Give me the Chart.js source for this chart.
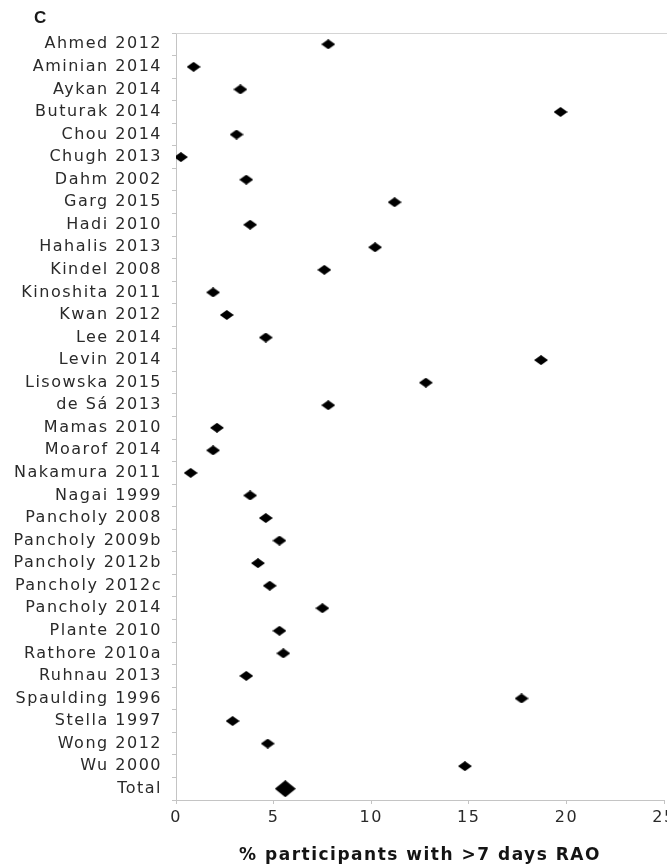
<!DOCTYPE html>
<html>
<head>
<meta charset="utf-8">
<script src="https://cdn.jsdelivr.net/npm/chart.js@4"></script>
<style>
  html, body { margin: 0; padding: 0; background: #fff; overflow: hidden; width: 667px; height: 868px; }
  #wrap { position: relative; width: 700px; height: 868px; }
  #panel { position: absolute; left: 34px; top: 8px; font: bold 17px "Liberation Sans", Arial, sans-serif; color: #1a1a1a; }
  canvas { position: absolute; left: 0; top: 0; }
</style>
</head>
<body>
<div id="wrap">
  <canvas id="c" width="700" height="868"></canvas>
  <div id="panel">C</div>
</div>
<script>
// Studies, top to bottom, with the pooled estimate last
const studies = [
  'Ahmed 2012', 'Aminian 2014', 'Aykan 2014', 'Buturak 2014', 'Chou 2014',
  'Chugh 2013', 'Dahm 2002', 'Garg 2015', 'Hadi 2010', 'Hahalis 2013',
  'Kindel 2008', 'Kinoshita 2011', 'Kwan 2012', 'Lee 2014', 'Levin 2014',
  'Lisowska 2015', 'de Sá 2013', 'Mamas 2010', 'Moarof 2014', 'Nakamura 2011',
  'Nagai 1999', 'Pancholy 2008', 'Pancholy 2009b', 'Pancholy 2012b', 'Pancholy 2012c',
  'Pancholy 2014', 'Plante 2010', 'Rathore 2010a', 'Ruhnau 2013', 'Spaulding 1996',
  'Stella 1997', 'Wong 2012', 'Wu 2000', 'Total'
];

// % of participants with radial artery occlusion beyond 7 days
const raoPercent = [
  7.8, 0.9, 3.3, 19.7, 3.1,
  0.25, 3.6, 11.2, 3.8, 10.2,
  7.6, 1.9, 2.6, 4.6, 18.7,
  12.8, 7.8, 2.1, 1.9, 0.75,
  3.8, 4.6, 5.3, 4.2, 4.8,
  7.5, 5.3, 5.5, 3.6, 17.7,
  2.9, 4.7, 14.8, 5.6
];

const xTicks = [0, 5, 10, 15, 20, 25];
const xTitle = '% participants with >7 days RAO';

// Diamond markers, slightly wider than tall
function diamond(w, h) {
  const c = document.createElement('canvas');
  c.width = w; c.height = h;
  const g = c.getContext('2d');
  g.fillStyle = '#000';
  g.beginPath();
  g.moveTo(w / 2, 0);
  g.lineTo(w, h / 2);
  g.lineTo(w / 2, h);
  g.lineTo(0, h / 2);
  g.closePath();
  g.fill();
  return c;
}
const studyMark = diamond(14, 10);
const totalMark = diamond(21, 17);
const markStyles = studies.map((s, i) => i === studies.length - 1 ? totalMark : studyMark);

const labelFont = { family: '"DejaVu Sans", Verdana, sans-serif', size: 16 };
const axisGrey = '#c4c4c4';

// Wide-set lettering for all chart text
const wideText = {
  id: 'wideText',
  beforeDraw(chart) { chart.ctx.letterSpacing = '1.5px'; },
  afterDraw(chart) { chart.ctx.letterSpacing = '0px'; }
};

// Light rule along the top of the plot area
const topRule = {
  id: 'topRule',
  afterDraw(chart) {
    const { ctx, chartArea: a } = chart;
    ctx.save();
    ctx.strokeStyle = '#d4d4d4';
    ctx.lineWidth = 1;
    ctx.beginPath();
    ctx.moveTo(a.left, Math.round(a.top) + 0.5);
    ctx.lineTo(chart.width, Math.round(a.top) + 0.5);
    ctx.stroke();
    ctx.restore();
  }
};

new Chart(document.getElementById('c'), {
  type: 'line',
  data: {
    labels: studies,
    datasets: [{
      data: raoPercent,
      showLine: false,
      pointStyle: markStyles,
      pointRadius: 7,
      pointHoverRadius: 7,
      backgroundColor: '#000',
      borderColor: '#000'
    }]
  },
  options: {
    indexAxis: 'y',
    responsive: false,
    devicePixelRatio: 1,
    animation: false,
    layout: { padding: { top: 33, right: 36, bottom: 0, left: 0 } },
    plugins: { legend: { display: false }, tooltip: { enabled: false } },
    scales: {
      y: {
        type: 'category',
        offset: true,
        afterFit(scale) { scale.width = 176; },
        grid: { drawOnChartArea: false, offset: true, tickLength: 4, color: axisGrey },
        border: { display: true, color: axisGrey },
        ticks: { autoSkip: false, padding: 10, color: '#2a2a2a', font: labelFont }
      },
      x: {
        type: 'linear',
        min: 0,
        max: 25,
        afterBuildTicks(scale) { scale.ticks = xTicks.map(v => ({ value: v })); },
        afterFit(scale) { scale.height = 68; },
        grid: { drawOnChartArea: false, tickLength: 4, color: axisGrey },
        border: { display: true, color: axisGrey },
        ticks: { autoSkip: false, maxRotation: 0, padding: 4, color: '#2a2a2a', font: labelFont },
        title: {
          display: true,
          text: xTitle,
          color: '#141414',
          font: { family: '"DejaVu Sans", Verdana, sans-serif', size: 17, weight: 'bold', lineHeight: 1.2 },
          padding: { top: 0, bottom: 2 }
        }
      }
    }
  },
  plugins: [wideText, topRule]
});
</script>
</body>
</html>
